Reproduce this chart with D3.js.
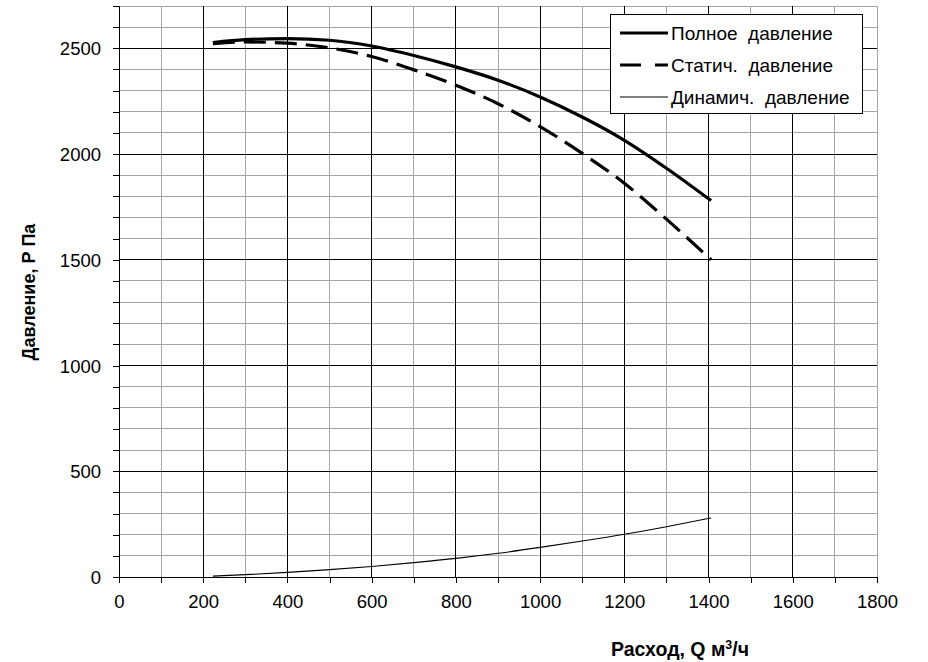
<!DOCTYPE html>
<html><head><meta charset="utf-8">
<script src="https://cdn.jsdelivr.net/npm/d3@7"></script>
<style>body{margin:0;background:#fff}svg{display:block}text{font-family:"Liberation Sans",Arial,sans-serif;white-space:pre}</style>
</head><body>
<script>
const flow = [223, 300, 400, 500, 600, 700, 800, 900, 1000, 1100, 1200, 1300, 1406];
const totalP = [2527, 2541, 2546, 2538, 2511, 2466, 2412, 2349, 2270, 2175, 2065, 1933, 1780];
const staticP = [2522, 2530, 2524, 2502, 2461, 2398, 2325, 2238, 2130, 2003, 1862, 1692, 1500];
const dynamicP = [4, 11, 22, 35, 50, 68, 88, 112, 140, 170, 202, 238, 279];
const xTicks = [0, 200, 400, 600, 800, 1000, 1200, 1400, 1600, 1800];
const yTicks = [0, 500, 1000, 1500, 2000, 2500];
const legendLabels = ["Полное  давление", "Статич.  давление", "Динамич.  давление"];
const xTitle = "Расход, Q м";
const yTitle = "Давление, Р Па";

const W = 928, H = 662;
const m = {l:119, r:877, t:6, b:577};
const svg = d3.select("body").append("svg").attr("width", W).attr("height", H);
const x = d3.scaleLinear().domain([0,1800]).range([m.l, m.r]);
const y = d3.scaleLinear().domain([0,2700]).range([m.b, m.t]);

const g = svg.append("g");
const xMinor = d3.range(100, 1801, 100);
const yMinor = d3.range(100, 2701, 100);
g.selectAll(".vx").data(xMinor.filter(v => v % 200 !== 0 || v === 1800)).enter().append("line")
  .attr("x1", d => x(d)).attr("x2", d => x(d)).attr("y1", m.t).attr("y2", m.b)
  .attr("stroke", "#a6a6a6").attr("stroke-width", 1).attr("shape-rendering","crispEdges");
g.selectAll(".hy").data(yMinor.filter(v => v % 500 !== 0 || v === 2700)).enter().append("line")
  .attr("y1", d => y(d)).attr("y2", d => y(d)).attr("x1", m.l).attr("x2", m.r)
  .attr("stroke", "#a6a6a6").attr("stroke-width", 1).attr("shape-rendering","crispEdges");
g.selectAll(".vX").data(xTicks.filter(v => v > 0 && v < 1800)).enter().append("line")
  .attr("x1", d => x(d)).attr("x2", d => x(d)).attr("y1", m.t).attr("y2", m.b)
  .attr("stroke", "#000").attr("stroke-width", 1).attr("shape-rendering","crispEdges");
g.selectAll(".hY").data(yTicks.filter(v => v > 0)).enter().append("line")
  .attr("y1", d => y(d)).attr("y2", d => y(d)).attr("x1", m.l).attr("x2", m.r)
  .attr("stroke", "#000").attr("stroke-width", 1).attr("shape-rendering","crispEdges");

const xAxis = d3.axisBottom(x).tickValues(d3.range(0,1801,100)).tickSize(6)
  .tickFormat(d => xTicks.includes(d) ? d : "");
const yAxis = d3.axisLeft(y).tickValues(d3.range(0,2701,100)).tickSize(6)
  .tickFormat(d => yTicks.includes(d) ? d : "");
const xa = svg.append("g").attr("transform", `translate(0,${m.b})`).call(xAxis);
const ya = svg.append("g").attr("transform", `translate(${m.l},0)`).call(yAxis);
[xa, ya].forEach(a => {
  a.select(".domain").remove();
  a.selectAll("line").attr("stroke", "#000").attr("shape-rendering","crispEdges");
  a.selectAll("text").attr("font-size", "18.5px").attr("fill", "#000")
   .style("font-family", '"Liberation Sans", Arial, sans-serif');
});
xa.selectAll("text").attr("dy", "0").attr("y", 31);
ya.selectAll("text").attr("x", -18).attr("dy", "0.35em");
svg.append("line").attr("x1", m.l).attr("x2", m.r).attr("y1", m.b).attr("y2", m.b)
  .attr("stroke", "#000").attr("shape-rendering","crispEdges");
svg.append("line").attr("x1", m.l).attr("x2", m.l).attr("y1", m.t).attr("y2", m.b)
  .attr("stroke", "#000").attr("shape-rendering","crispEdges");

const line = d3.line().curve(d3.curveMonotoneX);
const pts = arr => flow.map((q, i) => [x(q), y(arr[i])]);
svg.append("path").attr("d", line(pts(totalP))).attr("fill", "none").attr("stroke", "#000").attr("stroke-width", 3.2);
svg.append("path").attr("d", line(pts(staticP))).attr("fill", "none").attr("stroke", "#000").attr("stroke-width", 3.2)
  .attr("stroke-dasharray", "22,9");
svg.append("path").attr("d", line(pts(dynamicP))).attr("fill", "none").attr("stroke", "#000").attr("stroke-width", 1.1);

const lg = svg.append("g");
lg.append("rect").attr("x", 610.5).attr("y", 14.5).attr("width", 252).attr("height", 99)
  .attr("fill", "#fff").attr("stroke", "#000").attr("stroke-width", 1);
const ly = [33, 65, 97];
const styles = [{w:3.2, d:null}, {w:3.2, d:"21,14"}, {w:1.1, d:null}];
legendLabels.forEach((t, i) => {
  const l = lg.append("line").attr("x1", 620).attr("x2", 668).attr("y1", ly[i]).attr("y2", ly[i])
    .attr("stroke", "#000").attr("stroke-width", styles[i].w);
  if (styles[i].d) l.attr("stroke-dasharray", styles[i].d);
  lg.append("text").attr("x", 671).attr("y", ly[i] + 6.5).attr("font-size", "19px").text(t);
});

const xt = svg.append("text").attr("x", 680).attr("y", 656).attr("text-anchor", "middle")
  .attr("font-size", "19.5px").attr("font-weight", "bold");
xt.append("tspan").text(xTitle);
xt.append("tspan").attr("font-size", "12.5px").attr("dy", "-7").text("3");
xt.append("tspan").attr("dy", "7").text("/ч");
svg.append("text").attr("transform", "translate(35,292) rotate(-90)").attr("text-anchor", "middle")
  .attr("font-size", "18px").attr("font-weight", "bold").text(yTitle);
</script>
</body></html>
